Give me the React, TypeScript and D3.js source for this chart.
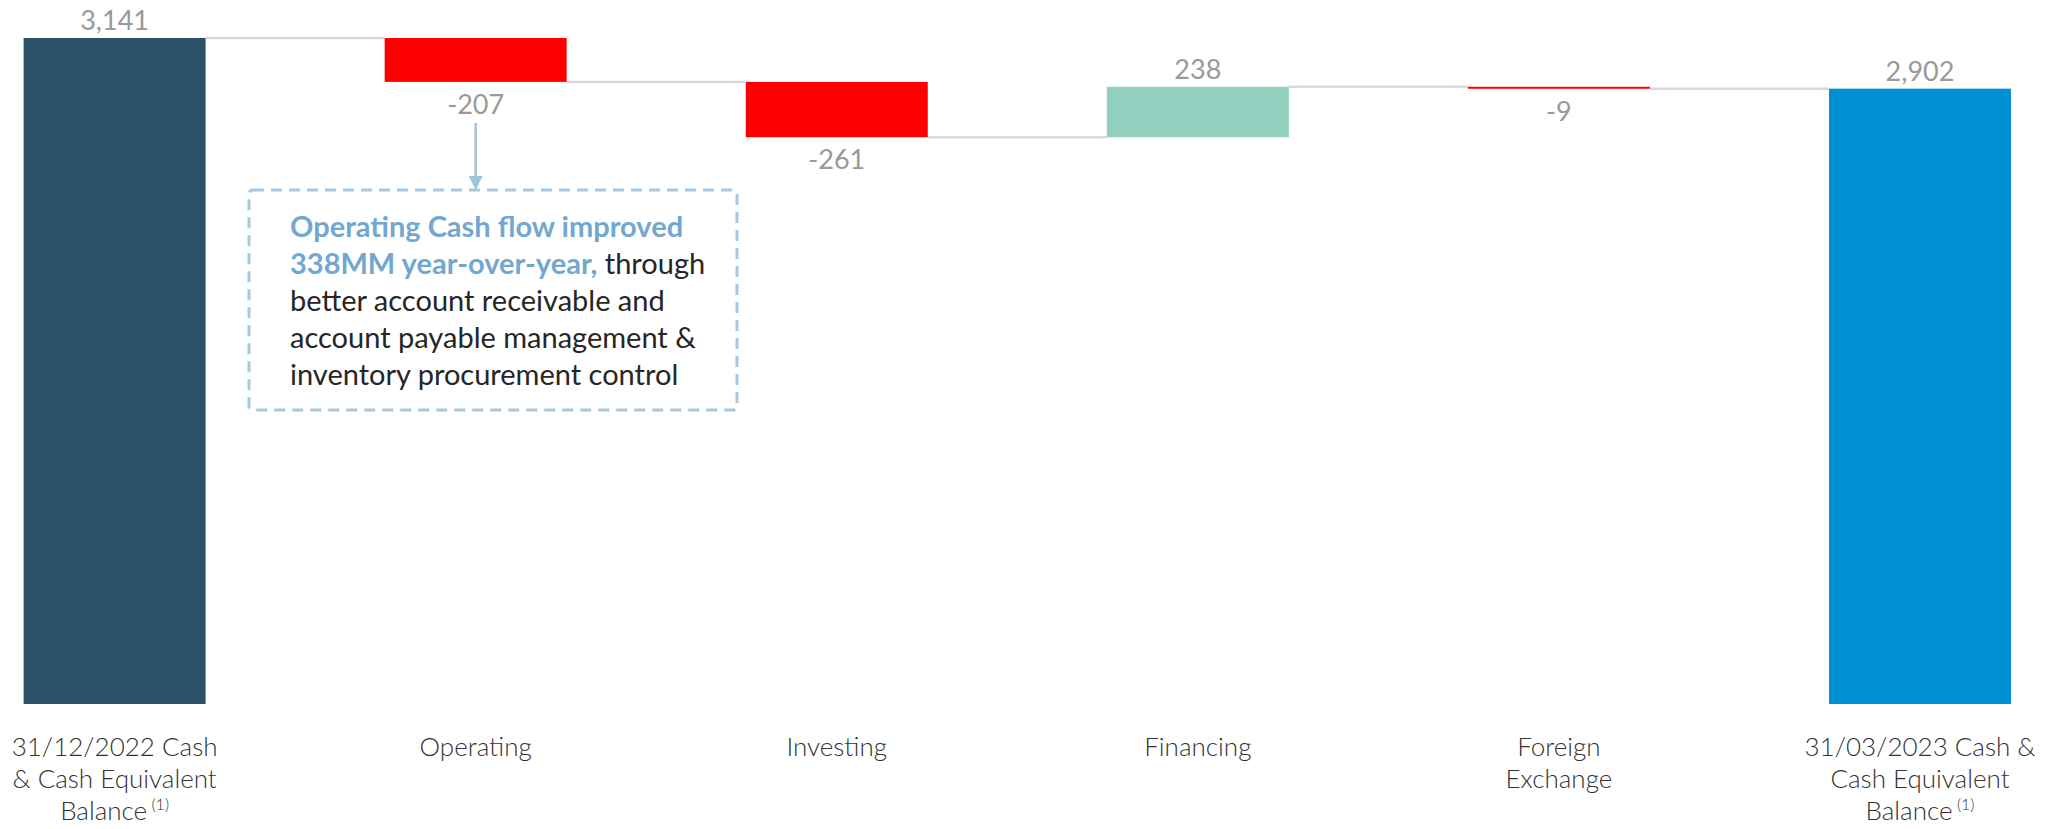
import React from 'react'
import * as d3 from 'd3'

// chart data
const categories = ['start', 'Operating', 'Investing', 'Financing', 'FX', 'end']
const categoryLines = [
  ['31/12/2022 Cash', '& Cash Equivalent', 'Balance'],
  ['Operating'],
  ['Investing'],
  ['Financing'],
  ['Foreign', 'Exchange'],
  ['31/03/2023 Cash &', 'Cash Equivalent', 'Balance'],
]
const footnote = [true, false, false, false, false, true]
const values = [3141, -207, -261, 238, -9, 2902]
const isTotal = [true, false, false, false, false, true]
const barColors = ['#2b5168', '#ff0000', '#ff0000', '#93cfbf', '#ff0000', '#0091d5']

const noteBold = ['Operating Cash flow improved', '338MM year-over-year,']
const noteRest = [' through', 'better account receivable and', 'account payable management &', 'inventory procurement control']

const W = 2056
const H = 829
const font = 'Lato, "Open Sans", sans-serif'

const App = () => {
  // running totals for waterfall
  let run = 0
  const bars = values.map((v, i) => {
    let lo, hi
    if (isTotal[i]) {
      lo = 0
      hi = v
      run = v
    } else {
      const next = run + v
      lo = Math.min(run, next)
      hi = Math.max(run, next)
      run = next
    }
    return { key: categories[i], v, lo, hi, end: run }
  })

  const x = d3.scaleBand().domain(categories).range([23.6, 2011]).paddingInner(0.496).paddingOuter(0)
  const y = d3.scaleLinear().domain([0, 3141]).range([704, 38])
  const fmt = d3.formatLocale({ decimal: '.', thousands: ',', grouping: [3], currency: ['$', ''], minus: '-' }).format(',')

  const opX = x('Operating') + x.bandwidth() / 2
  const box = { x: 249, y: 190, w: 488, h: 220 }

  return (
    <svg width={W} height={H} style={{ display: 'block', position: 'absolute', left: 0, top: 0 }}>
      <style>{`body{margin:0}`}</style>
      {/* connectors */}
      {bars.slice(0, -1).map((b, i) => (
        <line key={'c' + i}
          x1={x(b.key) + x.bandwidth()} x2={x(categories[i + 1])}
          y1={y(b.end)} y2={y(b.end)}
          stroke="#d9d9d9" strokeWidth={2.5} />
      ))}
      {/* bars */}
      {bars.map((b, i) => (
        <rect key={b.key} x={x(b.key)} width={x.bandwidth()}
          y={y(b.hi)} height={Math.max(2, y(b.lo) - y(b.hi))}
          fill={barColors[i]} />
      ))}
      {/* value labels */}
      {bars.map((b) => (
        <text key={'v' + b.key} x={x(b.key) + x.bandwidth() / 2}
          y={b.v >= 0 ? y(b.hi) - 8 : y(b.lo) + 32}
          textAnchor="middle" fontFamily={font} fontSize={27} fill="#999999">
          {fmt(b.v)}
        </text>
      ))}
      {/* category labels */}
      {categoryLines.map((lines, i) => (
        <text key={'l' + i} textAnchor="middle" fontFamily={font} fontSize={26} fontWeight={300} fill="#333333">
          {lines.map((ln, j) => (
            <tspan key={j} x={x(categories[i]) + x.bandwidth() / 2} y={756 + j * 32}>
              {ln}
              {footnote[i] && j === lines.length - 1 ? (
                <tspan fontSize={16} dy={-10}>{' (1)'}</tspan>
              ) : null}
            </tspan>
          ))}
        </text>
      ))}
      {/* annotation */}
      <line x1={opX} x2={opX} y1={123} y2={177} stroke="#9ec3dd" strokeWidth={2.5} />
      <path d={`M${opX - 7},${176} L${opX + 7},${176} L${opX},${190} Z`} fill="#9ec3dd" />
      <rect x={box.x} y={box.y} width={box.w} height={box.h} rx={4}
        fill="none" stroke="#a7c8df" strokeWidth={3} strokeDasharray="11 7" />
      <text fontFamily={font} fontSize={29} fill="#262626">
        <tspan x={290} y={237} fontWeight="bold" fill="#72a7cf">{noteBold[0]}</tspan>
        <tspan x={290} y={274} fontWeight="bold" fill="#72a7cf">{noteBold[1]}</tspan>
        <tspan>{noteRest[0]}</tspan>
        {noteRest.slice(1).map((ln, i) => (
          <tspan key={i} x={290} y={311 + i * 37}>{ln}</tspan>
        ))}
      </text>
    </svg>
  )
}

export default App
